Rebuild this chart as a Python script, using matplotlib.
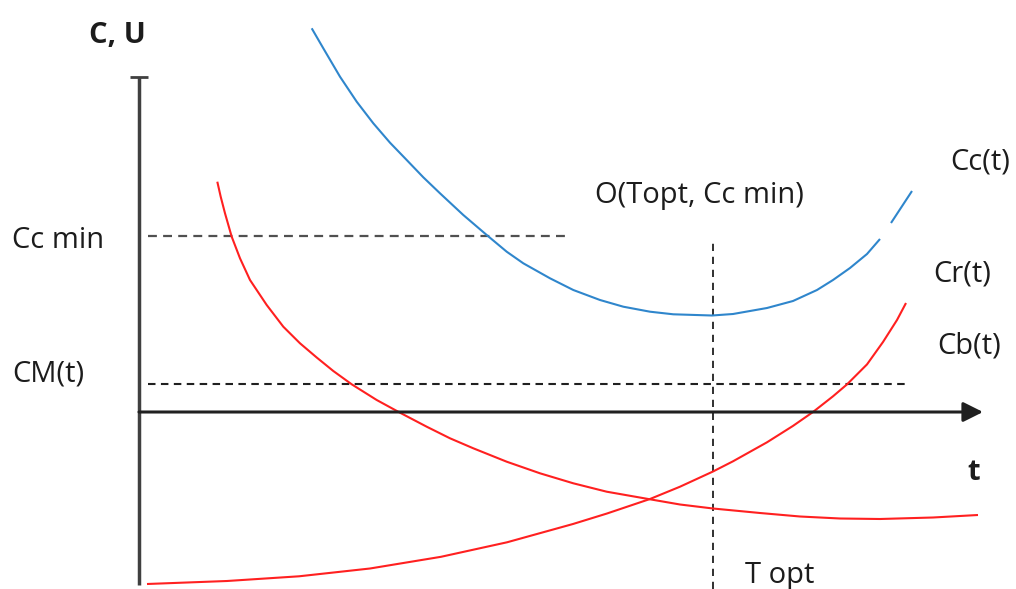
import matplotlib
matplotlib.use("Agg")
import matplotlib.pyplot as plt

# ---- data (schematic units: t to the right, C upward, origin at axes crossing) ----
cc_t = [172.7, 184.3, 201, 217.7, 234.3, 251, 267.7, 284.3, 301, 324.3, 347.7, 367.7, 384.3,
        411, 434.3, 461, 484.3, 511, 534.3, 573, 594, 628, 654, 678, 694, 711, 728, 741]
cc_c = [383.7, 363.7, 335.3, 310.3, 288.7, 269.3, 252, 234.7, 218.7, 197, 177, 160.3, 148.7,
        133.7, 122, 112, 105.3, 100.3, 97.7, 96.5, 98, 104, 111, 122, 132, 144, 158, 173]
cc_tail_t = [752, 762.5, 773]
cc_tail_c = [189, 205, 221]

cr_t = [78.3, 81.7, 86, 92.7, 101, 111, 127.7, 144.3, 161, 177.7, 194.3, 212.7, 237.7, 261,
        287.7, 311, 334.3, 367.7, 401, 434.3, 467.7, 511, 541, 574, 621, 661, 701, 741, 794, 839]
cr_c = [230.3, 215.3, 198.7, 175.3, 153.7, 132, 107, 85.3, 68.7, 54.5, 41, 27.7, 12, -0.7,
        -14.7, -26.3, -36.3, -49.7, -61.3, -71.3, -79.7, -87.3, -92.5, -96.5, -101, -104.5,
        -106.5, -107, -105.5, -103]

cb_t = [8, 88, 160, 231, 302, 368, 434, 468, 511, 541, 574, 594, 628, 654, 674, 694, 708,
        728, 744, 758, 767]
cb_c = [-172, -169, -164.3, -156.5, -144.8, -130.3, -112, -101.5, -87, -74.7, -59.5, -49.3,
        -30.3, -13.9, 0, 15.7, 27.6, 47.6, 70, 92, 109]

cc_min_level = 176
cm_level = 28
t_opt = 574

labels = {
    "y_axis": "C, U",
    "x_axis": "t",
    "cc_min": "Cc min",
    "cm": "CM(t)",
    "opt_point": "O(Topt, Cc min)",
    "cc": "Cc(t)",
    "cr": "Cr(t)",
    "cb": "Cb(t)",
    "t_opt": "T opt",
}

# ---- figure ----
fig = plt.figure(figsize=(10.16, 5.89), dpi=100)
ax = fig.add_axes([0, 0, 1, 1])
ax.set_xlim(-139, 877)
ax.set_ylim(-177, 412)
ax.axis("off")

FONT = "Open Sans"
TXT = "#1c1c1c"
FS = 21

axis_col = "#404040"
# vertical axis with top cap
ax.plot([0, 0], [-173, 335], color=axis_col, lw=2.5, solid_capstyle="butt")
ax.plot([-9, 9], [335, 335], color=axis_col, lw=2.0, solid_capstyle="butt")
# horizontal axis with arrow
ax.annotate("", xy=(844, 0), xytext=(0, 0),
            arrowprops=dict(arrowstyle="-|>,head_length=0.6,head_width=0.3",
                            color="#202020", lw=2.2, mutation_scale=20,
                            shrinkA=0, shrinkB=0))

# dashed reference lines
ax.hlines(cc_min_level, 9, 428, colors="#505050", lw=1.6, linestyles=(0, (4.0, 2.8)))
ax.hlines(cm_level, 9, 769, colors="#202020", lw=1.5, linestyles=(0, (3.6, 2.6)))
ax.vlines(t_opt, -177, 169, colors="#202020", lw=1.3, linestyles=(0, (4.0, 3.2)))

# curves
blue = "#2f86cc"
red = "#ff2020"
ax.plot(cc_t, cc_c, color=blue, lw=1.5, solid_capstyle="butt", solid_joinstyle="round")
ax.plot(cc_tail_t, cc_tail_c, color=blue, lw=1.5, solid_capstyle="butt")
ax.plot(cr_t, cr_c, color=red, lw=1.5, solid_capstyle="butt", solid_joinstyle="round")
ax.plot(cb_t, cb_c, color=red, lw=1.5, solid_capstyle="butt", solid_joinstyle="round")

# texts
ax.text(-22, 369, labels["y_axis"], ha="center", va="baseline", fontsize=FS,
        fontweight="bold", family=FONT, color=TXT)
ax.text(835, -68, labels["x_axis"], ha="center", va="baseline", fontsize=FS,
        fontweight="bold", family=FONT, color=TXT)
ax.text(-127, 164, labels["cc_min"], ha="left", va="baseline", fontsize=FS, family=FONT, color=TXT)
ax.text(-127, 31, labels["cm"], ha="left", va="baseline", fontsize=FS, family=FONT, color=TXT)
ax.text(456, 209, labels["opt_point"], ha="left", va="baseline", fontsize=FS, family=FONT, color=TXT)
ax.text(811, 242, labels["cc"], ha="left", va="baseline", fontsize=FS, family=FONT, color=TXT)
ax.text(794, 130, labels["cr"], ha="left", va="baseline", fontsize=FS, family=FONT, color=TXT)
ax.text(798, 59, labels["cb"], ha="left", va="baseline", fontsize=FS, family=FONT, color=TXT)
ax.text(606, -171, labels["t_opt"], ha="left", va="baseline", fontsize=FS, family=FONT, color=TXT)

fig.savefig("out.png", dpi=100, facecolor="white")
